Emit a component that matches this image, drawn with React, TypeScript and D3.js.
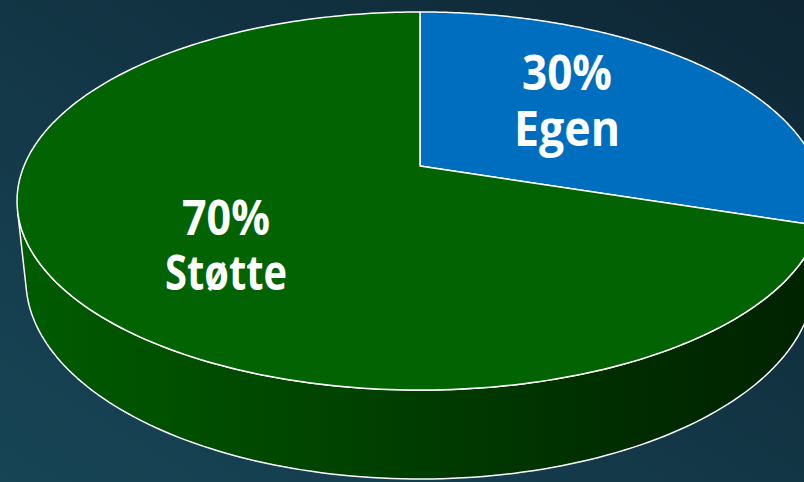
import React from "react";
import * as d3 from "d3";

const categories = ["Egen", "Støtte"];
const values = [30, 70];
const percentLabels = ["30%", "70%"];
const colors = ["#006EBE", "#016301"];

const W = 804;
const H = 482;

// camera / projection parameters (perspective 3D pie)
const CX = 420;
const CY = 166;
const D = 1;
const R = 0.2087;
const SIN_A = 0.461;
const COS_A = Math.sqrt(1 - SIN_A * SIN_A);
const F = 396 / R;
const DEPTH = 0.0471;

function proj(X: number, Y: number, Z: number): [number, number] {
  const vx = X;
  const vy = Y - D * COS_A;
  const vz = Z - D * SIN_A;
  const depth = -vy * COS_A - vz * SIN_A;
  const yc = -vy * SIN_A + vz * COS_A;
  return [CX + (F * vx) / depth, CY - (F * yc) / depth];
}

function rimPoint(theta: number, z: number): [number, number] {
  return proj(R * Math.cos(theta), R * Math.sin(theta), z);
}

// pie angle (0 = 12 o'clock, clockwise) -> world theta
const toTheta = (a: number) => a - Math.PI / 2;

function arcPoints(t0: number, t1: number, z: number, n = 120) {
  const pts: [number, number][] = [];
  for (let i = 0; i <= n; i++) {
    const t = t0 + ((t1 - t0) * i) / n;
    pts.push(rimPoint(t, z));
  }
  return pts;
}

const line = d3.line();

// label layout (screen positions of label blocks)
const labelLayout = [
  { x: 567, y1: 90, y2: 146, w1: 90, w2: 106 },
  { x: 226, y1: 235, y2: 290, w1: 88, w2: 122 },
];

export default function App() {
  const pie = d3.pie<number>().sort(null)(values);

  const visMin = Math.asin(R / (D * COS_A));
  const visMax = Math.PI - visMin;

  const sides: { d: string; i: number }[] = [];
  pie.forEach((p, i) => {
    let t0 = toTheta(p.startAngle);
    let t1 = toTheta(p.endAngle);
    const a = Math.max(t0, visMin);
    const b = Math.min(t1, visMax);
    if (b > a) {
      const top = arcPoints(a, b, 0);
      const bot = arcPoints(a, b, -DEPTH).reverse();
      sides.push({ d: line([...top, ...bot])! + "Z", i });
    }
  });

  const tops = pie.map((p, i) => {
    const pts = arcPoints(toTheta(p.startAngle), toTheta(p.endAngle), 0, 240);
    const c = proj(0, 0, 0);
    return { d: line([c, ...pts])! + "Z", i };
  });

  const fontFamily = "'Open Sans', 'DejaVu Sans', sans-serif";

  return (
    <svg
      width={W}
      height={H}
      style={{ position: "absolute", left: 0, top: 0 }}
    >
      <defs>
        <linearGradient id="bg" x1="1" y1="0" x2="0" y2="1">
          <stop offset="0" stopColor="#0e2634" />
          <stop offset="1" stopColor="#174556" />
        </linearGradient>
        <linearGradient id="sideG" gradientUnits="userSpaceOnUse" x1="17" y1="0" x2="804" y2="0">
          <stop offset="0" stopColor="#005c00" />
          <stop offset="0.45" stopColor="#004000" />
          <stop offset="0.8" stopColor="#002b00" />
          <stop offset="1" stopColor="#002400" />
        </linearGradient>
        <linearGradient id="sideB" gradientUnits="userSpaceOnUse" x1="17" y1="0" x2="804" y2="0">
          <stop offset="0" stopColor="#004a85" />
          <stop offset="1" stopColor="#00243f" />
        </linearGradient>
      </defs>
      <rect x={0} y={0} width={W} height={H} fill="url(#bg)" />
      {sides.map((s) => (
        <path
          key={"s" + s.i}
          d={s.d}
          fill={s.i === 0 ? "url(#sideB)" : "url(#sideG)"}
          stroke="#ffffff"
          strokeWidth={1.5}
          strokeLinejoin="round"
        />
      ))}
      {tops.map((t) => (
        <path
          key={"t" + t.i}
          d={t.d}
          fill={colors[t.i]}
          stroke="#ffffff"
          strokeWidth={1.5}
          strokeLinejoin="round"
        />
      ))}
      {categories.map((c, i) => {
        const L = labelLayout[i];
        return (
          <g key={"l" + i} fill="#ffffff" fontFamily={fontFamily} fontWeight={700} fontSize={48}>
            <text
              x={L.x - L.w1 / 2}
              y={L.y1}
              textLength={L.w1}
              lengthAdjust="spacingAndGlyphs"
            >
              {percentLabels[i]}
            </text>
            <text
              x={L.x - L.w2 / 2}
              y={L.y2}
              textLength={L.w2}
              lengthAdjust="spacingAndGlyphs"
            >
              {c}
            </text>
          </g>
        );
      })}
    </svg>
  );
}
